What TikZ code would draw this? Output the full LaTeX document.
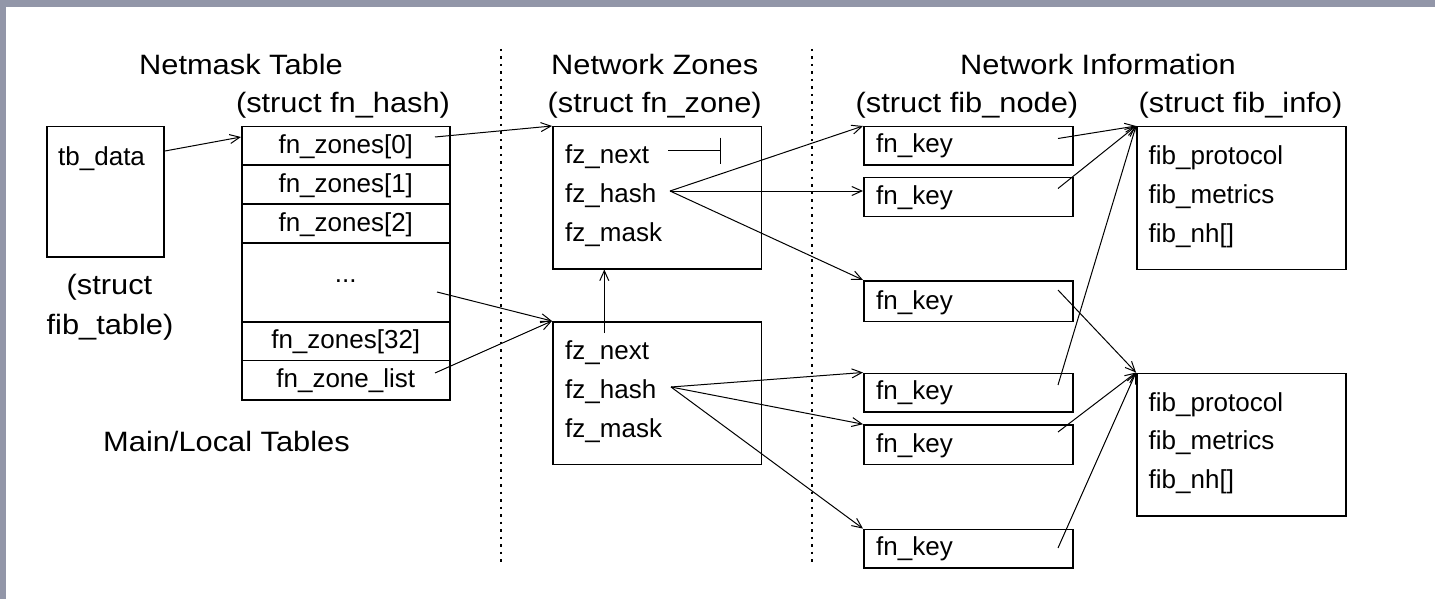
\documentclass[tikz,border=0pt]{standalone}
\usepackage{fontspec}
\setmainfont{Liberation Sans}
\newfontfamily\lblfont{Liberation Sans}[FakeStretch=1.1]
\usetikzlibrary{arrows.meta,calc}
\definecolor{frame}{RGB}{146,150,168}
\begin{document}
\begin{tikzpicture}[x=1pt,y=-1pt,
  box/.style={draw=black,line width=1.5pt,inner sep=0pt,anchor=north west},
  cell/.style={box,minimum width=208pt,text height=20pt,text depth=4.3pt,font=\fontsize{26}{30}\selectfont},
  body/.style={inner sep=0pt,anchor=base west,font=\fontsize{26}{30}\selectfont},
  lbl/.style={inner sep=0pt,anchor=base,font=\lblfont\fontsize{28}{32}\selectfont},
  ptr/.style={line width=1pt,-{Straight Barb[length=10pt,width=9pt]}},
  nullptr/.style={line width=1.3pt,-{Bar[width=26pt]}},
  sep/.style={line width=1.8pt,dash pattern=on 2.5pt off 5pt}]
\useasboundingbox (0,0) rectangle (1435,599);
\fill[frame] (0,0) rectangle (1435,599);
\fill[white] (6,7) rectangle (1435,599);

% titles
\node[lbl] (t1) at (241,75) {Netmask Table};
\node[lbl] (t1s) at (343,113) {(struct fn\_hash)};
\node[lbl] (t2) at (654.7,75) {Network Zones};
\node[lbl] (t2s) at (654.7,113) {(struct fn\_zone)};
\node[lbl] (t3) at (1098,75) {Network Information};
\node[lbl] (t3a) at (967,113) {(struct fib\_node)};
\node[lbl] (t3b) at (1240.5,113) {(struct fib\_info)};

% separators
\coordinate (d1t) at (500.7,49); \coordinate (d1b) at (500.7,563);
\coordinate (d2t) at (812.3,49); \coordinate (d2b) at (812.3,563);
\draw[sep] (d1t) -- (d1b);
\draw[sep] (d2t) -- (d2b);

% fib_table
\node[box,minimum width=117pt,minimum height=130pt] (tb) at (46,126) {};
\node[body] (tbt) at (58,165) {tb\_data};
\node[lbl] (tbl1) at (109.5,294) {(struct};
\node[lbl] (tbl2) at (110,334) {fib\_table)};
\node[lbl] (mlt) at (226.5,451.5) {Main/Local Tables};

% fn_hash
\node[cell,minimum height=38.5pt] (h0) at (241,126) {fn\_zones[0]};
\node[cell,minimum height=38.5pt] (h1) at (241,164.5) {fn\_zones[1]};
\node[cell,minimum height=39pt] (h2) at (241,203) {fn\_zones[2]};
\node[cell,minimum height=79pt,text height=5pt,text depth=4pt] (hd) at (241,242) {...};
\node[cell,minimum height=38.5pt] (h32) at (241,321) {fn\_zones[32]};
\node[cell,minimum height=39.5pt] (hl) at (241,359.5) {fn\_zone\_list};

% fn_zone
\node[box,minimum width=208.5pt,minimum height=142pt] (fz1) at (552,126) {};
\node[body] (fz1n) at (565,163.5) {fz\_next};
\node[body] (fz1h) at (565,202) {fz\_hash};
\node[body] (fz1m) at (565,241) {fz\_mask};
\node[box,minimum width=208.5pt,minimum height=142.5pt] (fz2) at (552,321) {};
\node[body] (fz2n) at (565,359.5) {fz\_next};
\node[body] (fz2h) at (565,398.5) {fz\_hash};
\node[body] (fz2m) at (565,437) {fz\_mask};

% fib_node
\node[box,minimum width=209pt,minimum height=38.5pt] (k1) at (863,126) {};
\node[body] (k1t) at (876,153) {fn\_key};
\node[box,minimum width=209pt,minimum height=39pt] (k2) at (863,176.7) {};
\node[body] (k2t) at (876,204.2) {fn\_key};
\node[box,minimum width=209pt,minimum height=40.5pt] (k3) at (863,280) {};
\node[body] (k3t) at (876,309) {fn\_key};
\node[box,minimum width=209pt,minimum height=38.5pt] (k4) at (863,372.5) {};
\node[body] (k4t) at (876,399.5) {fn\_key};
\node[box,minimum width=209pt,minimum height=39.5pt] (k5) at (863,424.2) {};
\node[body] (k5t) at (876,452.2) {fn\_key};
\node[box,minimum width=209pt,minimum height=38.5pt] (k6) at (863,528.6) {};
\node[body] (k6t) at (876,555.6) {fn\_key};

% fib_info
\node[box,minimum width=209pt,minimum height=142.5pt] (fi1) at (1136,126) {};
\node[body] (fi1a) at (1148.5,164.5) {fib\_protocol};
\node[body] (fi1b) at (1148.5,203) {fib\_metrics};
\node[body] (fi1c) at (1148.5,242) {fib\_nh[]};
\node[box,minimum width=209pt,minimum height=142.5pt] (fi2) at (1136,372.5) {};
\node[body] (fi2a) at (1148.5,411) {fib\_protocol};
\node[body] (fi2b) at (1148.5,449.5) {fib\_metrics};
\node[body] (fi2c) at (1148.5,488.5) {fib\_nh[]};

% pointers
\coordinate (tbs) at (165,151);
\draw[ptr] (tbs) -- ($(h0.north west)+(0,11)$);
\coordinate (h0s) at (435,137);
\draw[ptr] (h0s) -- (fz1.north west);
\coordinate (hds) at (437,292);
\draw[ptr] (hds) -- (fz2.north west);
\coordinate (hls) at (435,373);
\draw[ptr] (hls) -- (fz2.north west);

\coordinate (fz1ns) at (668,150.7);
\coordinate (fz1nul) at (721,150.7);
\draw[nullptr] (fz1ns) -- (fz1nul);
\coordinate (fz2ns) at (604.3,333);
\draw[ptr] (fz2ns) -- (fz2ns |- fz1.south);

\coordinate (fh1) at (670,191);
\draw[ptr] (fh1) -- (k1.north west);
\draw[ptr] (fh1) -- (fh1 -| k2.west);
\draw[ptr] (fh1) -- (k3.north west);
\coordinate (fh2) at (671,387);
\draw[ptr] (fh2) -- (k4.north west);
\draw[ptr] (fh2) -- (k5.north west);
\draw[ptr] (fh2) -- (k6.north west);

\coordinate (k1s) at (1058,138.5);
\coordinate (k2s) at (1058,188.5);
\coordinate (k3s) at (1058,290);
\coordinate (k4s) at (1058,385);
\coordinate (k5s) at (1058,432);
\coordinate (k6s) at (1058,548);
\draw[ptr] (k1s) -- (fi1.north west);
\draw[ptr] (k2s) -- (fi1.north west);
\draw[ptr] (k4s) -- (fi1.north west);
\draw[ptr] (k3s) -- (fi2.north west);
\draw[ptr] (k5s) -- (fi2.north west);
\draw[ptr] (k6s) -- (fi2.north west);
\end{tikzpicture}
\end{document}
